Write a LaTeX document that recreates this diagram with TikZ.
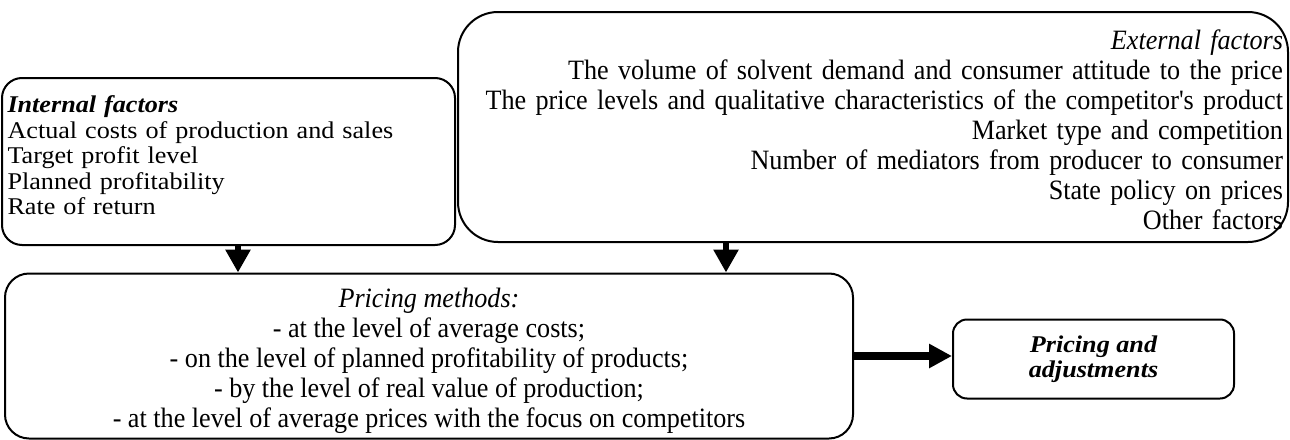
\documentclass[tikz,border=0pt]{standalone}
\usepackage{fontspec}
\setmainfont{Liberation Serif}[FakeStretch=1.09]
\newfontfamily\narrowfont{Liberation Serif}[FakeStretch=0.934]
\usetikzlibrary{arrows.meta,positioning}
\tikzset{
  factbox/.style={draw,line width=1pt,inner sep=2.5pt},
  narrowtext/.style={font=\narrowfont\fontsize{14}{15}\selectfont},
  downarr/.style={line width=3.3pt,-{Triangle[length=11.5pt,width=12pt]}},
  bigarr/.style={line width=4pt,-{Triangle[length=11.5pt,width=11.5pt]}},
}
\begin{document}
\fontsize{12}{12.75}\selectfont
\begin{tikzpicture}[x=0.5pt,y=-0.5pt]
\useasboundingbox (0,0) rectangle (1290,439);
% factors
\node[factbox,rounded corners=10pt,minimum width=226.5pt,minimum height=83.5pt,
      text width=221pt,align=left] (int) at (228.5,161.5)
  {\raisebox{1.5pt}[\height][\depth]{\begin{tabular}{@{}l@{}}
   \textbf{\textit{Internal factors}}\\
   Actual costs of production and sales\\
   Target profit level\\
   Planned profitability\\
   Rate of return
   \end{tabular}}};
\node[factbox,narrowtext,rounded corners=20pt,minimum width=415pt,minimum height=115pt,
      text width=410pt,align=right] (ext) at (873,127)
  {\raisebox{-3pt}[\height][\depth]{\begin{tabular}{@{}r@{}}
   \textit{External factors}\\
   The volume of solvent demand and consumer attitude to the price\\
   The price levels and qualitative characteristics of the competitor's product\\
   Market type and competition\\
   Number of mediators from producer to consumer\\
   State policy on prices\\
   Other factors
   \end{tabular}}};
% methods
\node[factbox,narrowtext,rounded corners=12pt,minimum width=424pt,minimum height=82.5pt,
      align=center] (meth) at (429,356)
  {\raisebox{-2.5pt}[\height][\depth]{\begin{tabular}{@{}c@{}}
   \textit{Pricing methods:}\\
   - at the level of average costs;\\
   - on the level of planned profitability of products;\\
   - by the level of real value of production;\\
   - at the level of average prices with the focus on competitors
   \end{tabular}}};
\node[factbox,rounded corners=7pt,minimum width=140.5pt,minimum height=39.5pt,
      align=center,font=\bfseries\itshape] (adj) at (1093.5,359)
  {Pricing and\\adjustments};
% arrows
\draw[downarr] ([xshift=4.75pt]int.south) -- ([xshift=4.75pt]int.south |- meth.north);
\draw[downarr] ([xshift=-73.5pt]ext.south) -- ([xshift=-73.5pt]ext.south |- meth.north);
\draw[bigarr] (meth.east) -- (meth.east -| adj.west);
\end{tikzpicture}
\end{document}
